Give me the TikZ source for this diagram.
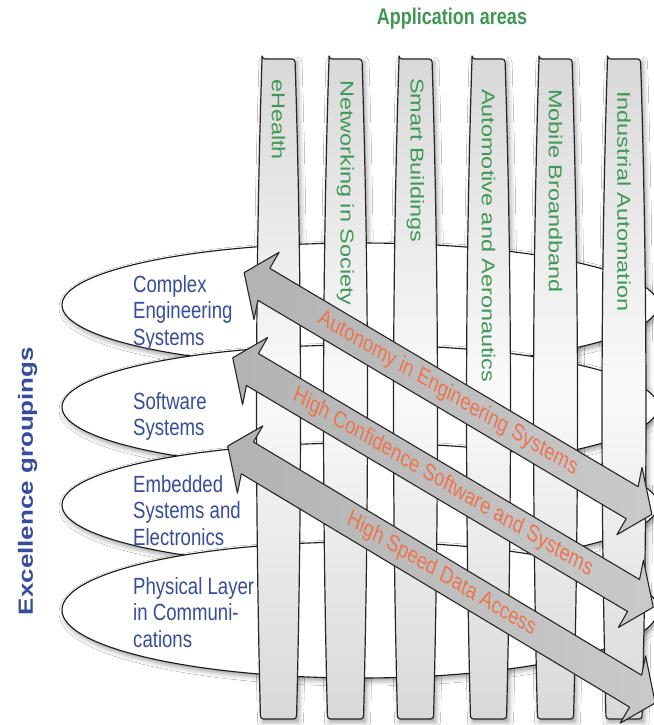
\documentclass[tikz,border=0pt]{standalone}
\usepackage{fontspec}
\setmainfont{Liberation Sans}
\usepackage{tikz}
\usetikzlibrary{shapes.geometric}
\usetikzlibrary{shapes.arrows}
\usetikzlibrary{shadows.blur}
\newcommand{\stretchfactor}{1.26}
\newcommand{\labelfont}{\fontsize{18.6}{21}\selectfont}
\definecolor{areagreen}{RGB}{62,152,84}
\definecolor{groupblue}{RGB}{55,76,158}
\definecolor{themeorange}{RGB}{238,116,78}
\tikzstyle{tall}=[yscale=\stretchfactor]
\tikzstyle{softshadow}=[blur shadow={shadow xshift=2pt, shadow yshift=-3pt, shadow blur radius=5pt, shadow opacity=40}]
\tikzstyle{strip}=[draw=black!85, line width=1.2pt, rounded corners=3pt,
                   top color=gray!30, bottom color=gray!30, middle color=gray!4]
\tikzstyle{striplabel}=[tall, rotate=-90, anchor=west, inner sep=0, text=areagreen, font=\labelfont]
\tikzstyle{disc}=[ellipse, draw=black!90, line width=1.1pt, fill=white, inner sep=0,
                  minimum width=596pt, minimum height=124pt, softshadow]
\tikzstyle{grouptext}=[tall, anchor=north west, align=left, inner sep=0, text=groupblue, font=\labelfont]
\tikzstyle{theme}=[tall, rotate=-25.2, double arrow, draw=black!85, line width=1.1pt,
                   double arrow tip angle=100, double arrow head extend=15.5pt, double arrow head indent=3pt,
                   minimum width=58pt, inner xsep=0, inner ysep=4.8pt,
                   left color=gray!60, middle color=gray!14, right color=gray!42,
                   text=themeorange, font=\labelfont]
\tikzstyle{weave}=[x=1pt, y=-1pt, line join=round]
\newcommand{\stripoutline}[1]{(#1-16.5,59) -- (#1+16.5,59) .. controls (#1+23.5,280) and (#1+23.5,500) .. (#1+18,719)
  -- (#1-18,719) .. controls (#1-23.5,500) and (#1-23.5,280) .. (#1-16.5,59) -- cycle}

\begin{document}
\begin{tikzpicture}[weave]
    \fill[white] (0,0) rectangle (653,725);
    \useasboundingbox (0,0) rectangle (653,725);
    % headings
    \node[tall, font=\bfseries\fontsize{18}{20}\selectfont, text=areagreen] (areas) at (452,18.5) {Application areas};
    \node[tall, rotate=90, font=\bfseries\fontsize{20.6}{22}\selectfont, text=groupblue] (groupings) at (27.6,481) {Excellence groupings};
    % shadows of the strips lie under the discs
    \foreach \x in {278.5,345.5,415.5,488.5,555.5,624}
        \path[softshadow] \stripoutline{\x};
    % excellence groupings
    \node[disc] (cplx) at (360,305) {};
    \node[disc] (softw) at (360,407) {};
    \node[disc] (embed) at (360,505) {};
    \node[disc, minimum height=136pt] (phys) at (360,610) {};
    \node[grouptext] (cplxtext) at (133,275) {Complex\\Engineering\\Systems};
    \node[grouptext] (softwtext) at (133,392) {Software\\Systems};
    \node[grouptext] (embedtext) at (133,475) {Embedded\\Systems and\\Electronics};
    \node[grouptext] (phystext) at (133,577) {Physical Layer\\in Communi-\\cations};
    % application areas
    \foreach \x in {278.5,345.5,415.5,488.5,555.5,624}
        \draw[strip] \stripoutline{\x};
    \node[striplabel] (ehealth) at (278.5,79) {eHealth};
    \node[striplabel] (society) at (345.5,80) {Networking in Society};
    \node[striplabel] (buildings) at (415.5,78) {Smart Buildings};
    \node[striplabel] (aero) at (488.5,89) {Automotive and Aeronautics};
    \node[striplabel] (mobile) at (555.5,89) {Mobile Broandband};
    \node[striplabel] (industry) at (624,91) {Industrial Automation};
    % cross-cutting themes
    \node[theme, minimum height=450.6pt] (autonomy) at (448,393.5) {Autonomy in Engineering Systems};
    \node[theme, minimum height=464.8pt] (confidence) at (443,482.5) {High Confidence Software and Systems};
    \node[theme, minimum height=473.7pt, rotate=-0.3] (dataaccess) at (441.5,574.5) {High Speed Data Access};
\end{tikzpicture}
\end{document}
